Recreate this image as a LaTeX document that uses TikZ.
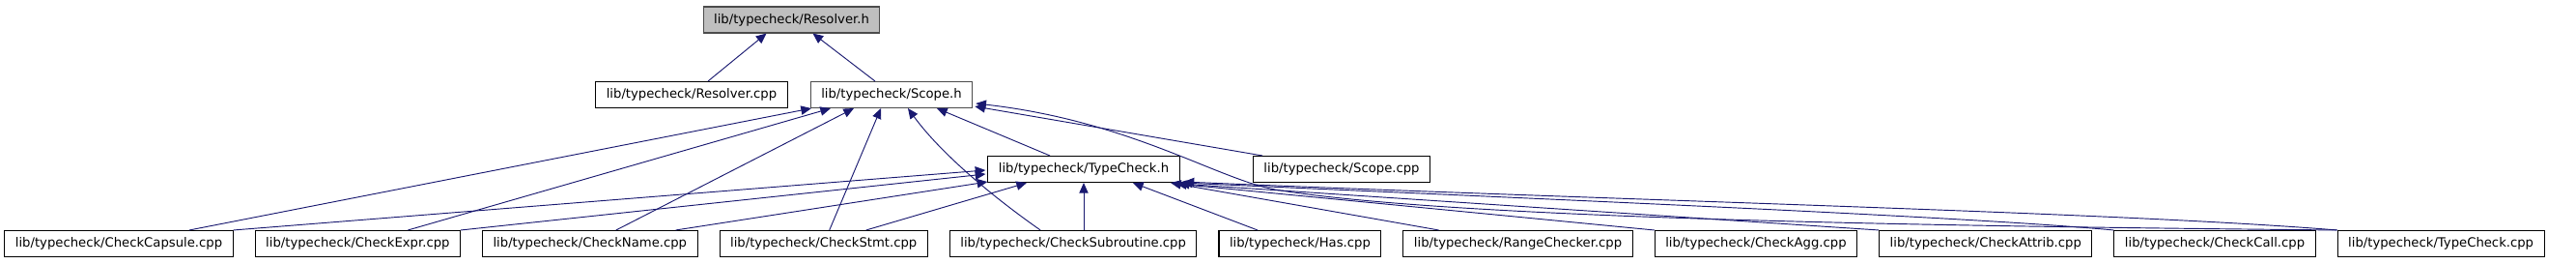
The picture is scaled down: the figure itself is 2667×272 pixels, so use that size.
\documentclass[tikz,border=0pt]{standalone}
\usepackage{fontspec}
\setmainfont{DejaVu Sans}
\usetikzlibrary{arrows.meta, positioning, calc}
\definecolor{edgeblue}{HTML}{191970}
\definecolor{rootgray}{HTML}{BFBFBF}

\begin{document}
\begin{tikzpicture}[
  x=0.75pt, y=-0.75pt,
  >={Triangle[length=8pt,width=7pt]},
  file/.style={
    draw=black,
    fill=white,
    line width=0.8pt,
    inner xsep=8.25pt,
    minimum height=20.25pt,
    font=\fontsize{9.9pt}{12pt}\selectfont
  },
  root/.style={file, draw=black!70, fill=rootgray},
  link/.style={->, edgeblue, line width=0.7pt},
  node distance=37.5pt and 16.5pt
]
\useasboundingbox (0,0) rectangle (2667,272);

% Niveaux superieurs
\node[root] (resh) at (819.5,20.5) {lib/typecheck/Resolver.h};
\node[file] (rescpp) at (716,98) {lib/typecheck/Resolver.cpp};
\node[file, draw=black!70] (scopeh) at (923,98) {lib/typecheck/Scope.h};
\node[file] (tch) at (1122,175) {lib/typecheck/TypeCheck.h};
\node[file] (scopecpp) at (1389,175) {lib/typecheck/Scope.cpp};

% Rangee du bas
\node[file] (capsule) at (123,252) {lib/typecheck/CheckCapsule.cpp};
\node[file, right=of capsule] (expr) {lib/typecheck/CheckExpr.cpp};
\node[file, right=of expr] (name) {lib/typecheck/CheckName.cpp};
\node[file, right=of name] (stmt) {lib/typecheck/CheckStmt.cpp};
\node[file, right=of stmt] (subr) {lib/typecheck/CheckSubroutine.cpp};
\node[file, right=of subr] (has) {lib/typecheck/Has.cpp};
\node[file, right=of has] (range) {lib/typecheck/RangeChecker.cpp};
\node[file, right=of range] (agg) {lib/typecheck/CheckAgg.cpp};
\node[file, right=of agg] (attrib) {lib/typecheck/CheckAttrib.cpp};
\node[file, right=of attrib] (call) {lib/typecheck/CheckCall.cpp};
\node[file, right=of call] (tccpp) {lib/typecheck/TypeCheck.cpp};

% Vers Resolver.h
\draw[link] ($(rescpp.north)+(17,0)$) -- ($(resh.south)+(-26,0)$);
\draw[link] ($(scopeh.north)+(-17,0)$) -- ($(resh.south)+(22,0)$);

% Vers Scope.h
\draw[link] ($(capsule.north)+(73,0)$) -- ($(scopeh.south)+(-83,0)$);
\draw[link] ($(expr.north)+(52,0)$) -- ($(scopeh.south)+(-63,0)$);
\draw[link] ($(name.north)+(27,0)$) -- ($(scopeh.south)+(-39,0)$);
\draw[link] ($(stmt.north)+(6,0)$) -- ($(scopeh.south)+(-11,0)$);
\draw[link] ($(subr.north)+(-34,0)$) .. controls (1030,205) and (975,160) .. ($(scopeh.south)+(17,0)$);
\draw[link] ($(tch.north)+(-35,0)$) -- ($(scopeh.south)+(47,0)$);
\draw[link] ($(scopecpp.north)+(-82,0)$) -- ($(scopeh.south east)+(2,-2)$);
\draw[link] (tccpp.north west) .. controls (2000,234) and (1500,226) .. (1320,196)
  .. controls (1260,185) and (1170,125) .. ($(scopeh.east)+(3,9)$);

% Vers TypeCheck.h
\draw[link] (capsule.north east) -- ($(tch.west)+(-2,1)$);
\draw[link] (expr.north east) -- ($(tch.west)+(-2,5)$);
\draw[link] ($(name.north east)+(-23,0)$) -- ($(tch.south west)+(0,-1)$);
\draw[link] ($(stmt.north)+(44,0)$) -- ($(tch.south)+(-59,0)$);
\draw[link] (subr.north -| tch.south) -- (tch.south);
\draw[link] ($(has.north)+(-44,0)$) -- ($(tch.south)+(51,0)$);
\draw[link] ($(range.north)+(-82,0)$) -- ($(tch.south)+(90,0)$);
\draw[link] (agg.north west) -- ($(tch.south east)+(-4,1)$);
\draw[link] (attrib.north west) -- ($(tch.south east)+(-1,1)$);
\draw[link] (call.north west) .. controls (2050,225) and (1650,208) .. ($(tch.south east)+(2,0)$);
\draw[link] (tccpp.north west) .. controls (2200,220) and (1700,208) .. ($(tch.south east)+(4,-1)$);

\end{tikzpicture}
\end{document}
